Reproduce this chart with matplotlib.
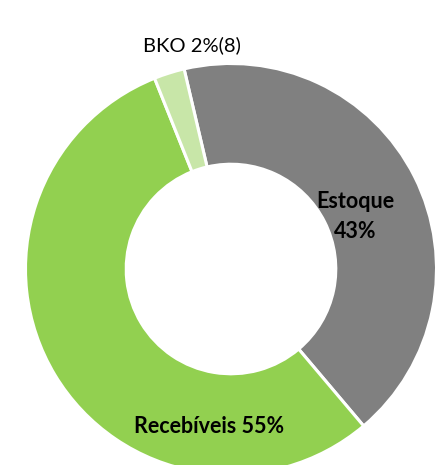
import matplotlib.pyplot as plt

# valores (fatias no sentido horário a partir do topo)
categorias = ['Estoque', 'Recebíveis', 'BKO']
valores = [42.5, 55.1, 2.4]
rotulos = ['Estoque\n43%', 'Recebíveis 55%', 'BKO 2%(8)']
cores = ['#808080', '#92D050', '#C8E6A8']

plt.rcParams['font.family'] = ['Lato', 'DejaVu Sans']

W, H = 448, 465
fig = plt.figure(figsize=(W / 100, H / 100), dpi=100)
ax = fig.add_axes([0, 0, 1, 1])

cx, cy, R = 231, 269, 205.5
ax.pie(valores, colors=cores, startangle=103.2, counterclock=False,
       radius=1, wedgeprops=dict(width=0.49, edgecolor='white', linewidth=2.2))
ax.set_xlim(-cx / R, (W - cx) / R)
ax.set_ylim(-(H - cy) / R, cy / R)
ax.set_aspect('auto')
ax.axis('off')


def px(x, y):
    return x / W, 1 - y / H


fig.text(*px(355, 208), 'Estoque', ha='center', va='baseline',
         fontsize=15.5, fontweight='bold', color='black')
fig.text(*px(355, 238), '43%', ha='center', va='baseline',
         fontsize=15.5, fontweight='bold', color='black')
fig.text(*px(209.5, 433), rotulos[1], ha='center', va='baseline',
         fontsize=15.5, fontweight='bold', color='black')
fig.text(*px(192, 51), rotulos[2], ha='center', va='baseline',
         fontsize=14.5, color='black')

fig.savefig('out.png', dpi=100)
